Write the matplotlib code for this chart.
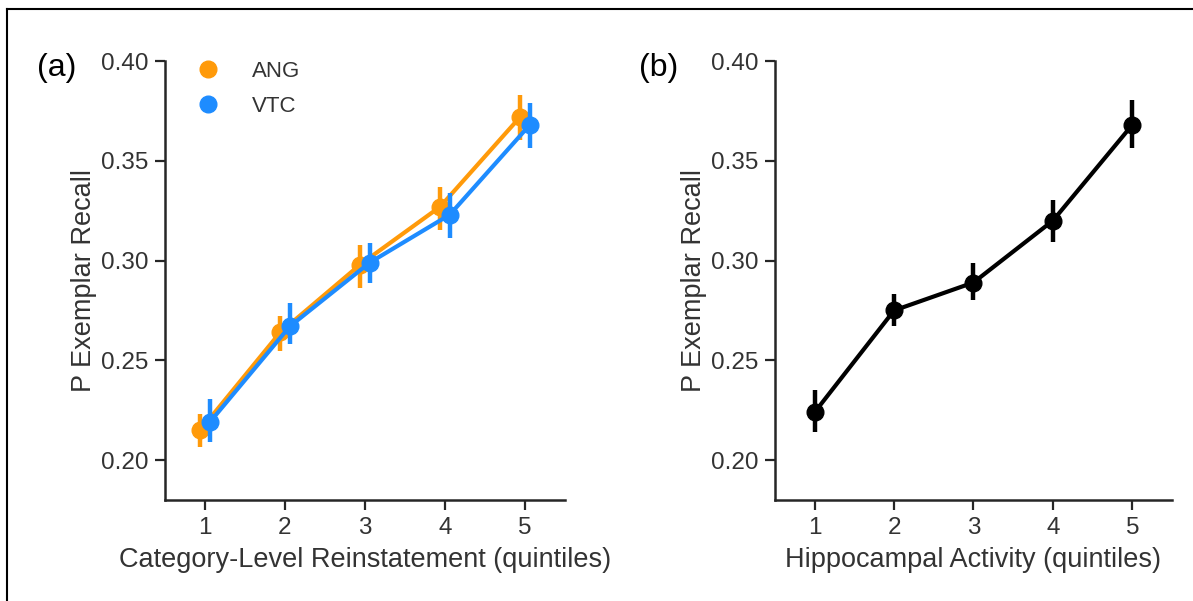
import matplotlib.pyplot as plt
import numpy as np
from matplotlib.lines import Line2D

plt.rcParams['font.family'] = ['Liberation Sans', 'DejaVu Sans']

# quintile positions
quintiles = [1, 2, 3, 4, 5]

# panel (a): category-level reinstatement
ang_mean = [0.215, 0.264, 0.298, 0.327, 0.372]
ang_lo = [0.2065, 0.2545, 0.2865, 0.3155, 0.3605]
ang_hi = [0.223, 0.272, 0.308, 0.337, 0.383]
vtc_mean = [0.219, 0.267, 0.299, 0.323, 0.368]
vtc_lo = [0.209, 0.258, 0.289, 0.3115, 0.3565]
vtc_hi = [0.2305, 0.2785, 0.309, 0.334, 0.379]

# panel (b): hippocampal activity
hip_mean = [0.224, 0.275, 0.289, 0.320, 0.368]
hip_lo = [0.214, 0.267, 0.280, 0.3095, 0.3565]
hip_hi = [0.235, 0.283, 0.299, 0.3305, 0.3805]

yticks = [0.20, 0.25, 0.30, 0.35, 0.40]
ang_color = '#FF9A0A'
vtc_color = '#1E8CFF'
spine_color = '#262626'

fig = plt.figure(figsize=(11.93, 6.01), dpi=100)
ax1 = fig.add_axes([0.1383, 0.168, 0.3353, 0.7305])
ax2 = fig.add_axes([0.6496, 0.168, 0.3328, 0.7305])


def draw_series(ax, x, mean, lo, hi, color, zorder):
    x = np.asarray(x, dtype=float)
    mean = np.asarray(mean)
    ax.vlines(x, lo, hi, color=color, lw=3.2, zorder=zorder)
    ax.plot(x, mean, color=color, lw=3.0, marker='o', ms=12,
            zorder=zorder, solid_capstyle='round')


draw_series(ax1, np.array(quintiles) - 0.06, ang_mean, ang_lo, ang_hi, ang_color, 3)
draw_series(ax1, np.array(quintiles) + 0.06, vtc_mean, vtc_lo, vtc_hi, vtc_color, 4)
draw_series(ax2, quintiles, hip_mean, hip_lo, hip_hi, 'black', 3)

for ax, xlabel in [(ax1, 'Category-Level Reinstatement (quintiles)'),
                   (ax2, 'Hippocampal Activity (quintiles)')]:
    ax.set_xlim(0.5, 5.5)
    ax.set_ylim(0.18, 0.40)
    ax.set_xticks(quintiles)
    ax.set_yticks(yticks)
    ax.set_yticklabels(['%.2f' % v for v in yticks])
    for s in ['top', 'right']:
        ax.spines[s].set_visible(False)
    for s in ['left', 'bottom']:
        ax.spines[s].set_linewidth(1.8)
        ax.spines[s].set_color(spine_color)
    ax.tick_params(labelsize=17.5, length=7, width=1.6, color=spine_color,
                   labelcolor='#333333', pad=5)
    ax.set_xlabel(xlabel, fontsize=19.5, color='#333333', labelpad=6)
    ax.set_ylabel('P Exemplar Recall', fontsize=19.5, color='#333333', labelpad=3)

handles = [Line2D([], [], color=ang_color, marker='o', ls='', ms=12),
           Line2D([], [], color=vtc_color, marker='o', ls='', ms=12)]
ax1.legend(handles, ['ANG', 'VTC'], loc='upper left', bbox_to_anchor=(0.003, 1.045),
           frameon=False, fontsize=16, handletextpad=0.95, labelspacing=0.6,
           labelcolor='#333333')

fig.text(0.031, 0.873, '(a)', fontsize=23)
fig.text(0.536, 0.873, '(b)', fontsize=23)

# outer frame lines (top and left only)
fig.add_artist(Line2D([0.006, 1.0], [0.985, 0.985], color='black', lw=1.5,
                      transform=fig.transFigure))
fig.add_artist(Line2D([0.006, 0.006], [0.0, 0.985], color='black', lw=1.5,
                      transform=fig.transFigure))

fig.savefig('out.png', dpi=100)
